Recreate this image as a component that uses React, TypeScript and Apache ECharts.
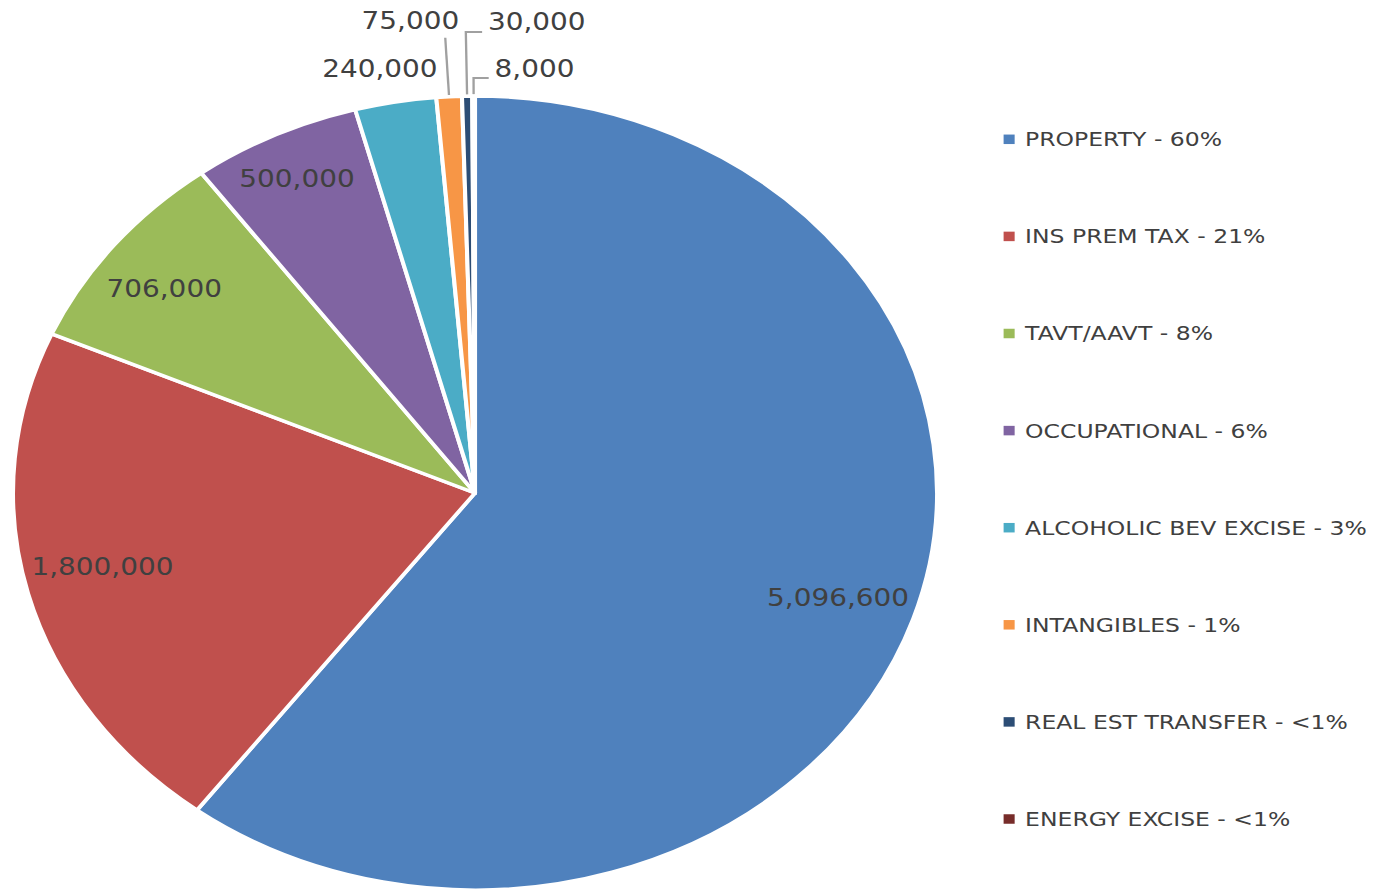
import React, { useEffect, useRef } from "react";
import * as echarts from "echarts";

// ---- data ----
const categories = [
  "PROPERTY",
  "INS PREM TAX",
  "TAVT/AAVT",
  "OCCUPATIONAL",
  "ALCOHOLIC BEV EXCISE",
  "INTANGIBLES",
  "REAL EST TRANSFER",
  "ENERGY EXCISE",
];
const values = [5096600, 1800000, 706000, 500000, 240000, 75000, 30000, 8000];
const shareLabels = ["60%", "21%", "8%", "6%", "3%", "1%", "<1%", "<1%"];

// ---- styles ----
const colors = ["#4F81BD", "#C0504D", "#9BBB59", "#8064A2", "#4BACC6", "#F79646", "#2C4D75", "#772C2A"];
const FONT = "DejaVu Sans";
const TEXT = "#404040";
const SX = 462 / 397; // horizontal stretch of the reference picture
const W = 1376 / SX;
const H = 891;
const CX = 475 / SX;
const CY = 493;
const R = 397;

// inside labels: radius (px) at which each big slice's label sits, plus a small vertical nudge
const insideIdx = [0, 1, 2, 3];
const insideRadius = [326, 328, 339, 350];
const insideNudgeY = [0, -10, 9, 4];

// outside labels for the small slices
const smallIdx = [4, 5, 6, 7];
const smallLen = [34, 59, 64, 18];
const smallLen2 = [0, 0, 14, 13];
const smallShowLine = [false, true, true, true];
const smallFlip = [false, false, true, true];
const smallAlign = ["center", "right", "left", "left"];
const smallVAlign = ["middle", "bottom", "bottom", "bottom"];
const smallDist = [7.5, -12, 5, 5];
const smallNudgeY = [0, 0, 2, 3];
const smallPad = [
  [0, 0, 0, 0],
  [0, 0, 5, 0],
  [0, 0, 0, 0],
  [0, 0, 0, 0],
];

const fmtNum = (v: number) => v.toLocaleString("en-US");

export default function App() {
  const ref = useRef<HTMLDivElement>(null);
  useEffect(() => {
    const chart = echarts.init(ref.current!, null, { renderer: "svg" });

    const mainData = values.map((v, i) => {
      const k = smallIdx.indexOf(i);
      const isSmall = k >= 0;
      return {
        name: categories[i],
        value: v,
        itemStyle: { color: colors[i] },
        label: isSmall
          ? {
              show: true,
              distanceToLabelLine: smallDist[k],
              padding: smallPad[k],
            }
          : { show: false },
        labelLine: isSmall
          ? { show: smallShowLine[k], length: smallLen[k], length2: smallLen2[k] }
          : { show: false },
      };
    });

    const labelPies = insideIdx.map((idx, j) => ({
      type: "pie",
      silent: true,
      center: [CX, CY],
      radius: [0, insideRadius[j] * 2],
      startAngle: 90,
      clockwise: true,
      avoidLabelOverlap: false,
      z: 5,
      itemStyle: { color: "transparent", borderWidth: 0 },
      emphasis: { disabled: true },
      label: {
        show: true,
        position: "inside",
        fontFamily: FONT,
        fontSize: 24,
        lineHeight: 24,
        color: TEXT,
        formatter: (p: any) => fmtNum(p.value),
      },
      labelLine: { show: false },
      labelLayout: (p: any) => {
        if (p.dataIndex !== idx || !p.labelRect) return {};
        const r = p.labelRect;
        return {
          x: r.x + r.width / 2,
          y: r.y + r.height / 2 + insideNudgeY[j],
          align: "center",
          verticalAlign: "middle",
        };
      },
      data: values.map((v, i) => ({
        name: categories[i],
        value: v,
        label: { show: i === idx },
      })),
    }));

    const option: any = {
      animation: false,
      backgroundColor: "#ffffff",
      legend: {
        orient: "vertical",
        left: 857.4,
        top: 123.3,
        itemGap: 75.1,
        itemWidth: 9.5,
        itemHeight: 9.5,
        icon: "rect",
        selectedMode: false,
        itemStyle: { borderWidth: 0 },
        data: categories,
        formatter: (n: string) => `${n} - ${shareLabels[categories.indexOf(n)]}`,
        textStyle: {
          fontFamily: FONT,
          fontSize: 20.2,
          color: TEXT,
          lineHeight: 22,
          padding: [0, 0, 0, 4],
        },
      },
      series: [
        {
          type: "pie",
          center: [CX, CY],
          radius: [0, R],
          startAngle: 90,
          clockwise: true,
          avoidLabelOverlap: false,
          emphasis: { disabled: true },
          itemStyle: { borderColor: "#ffffff", borderWidth: 3.5 },
          label: {
            show: true,
            position: "outside",
            fontFamily: FONT,
            fontSize: 24,
            lineHeight: 24,
            color: TEXT,
            formatter: (p: any) => fmtNum(p.value),
          },
          labelLine: { show: true, lineStyle: { color: "#a0a0a0", width: 2 } },
          labelLayout: (p: any) => {
            const k = smallIdx.indexOf(p.dataIndex);
            if (k < 0) return {};
            const res: any = { align: smallAlign[k], verticalAlign: smallVAlign[k] };
            const pts = p.labelLinePoints;
            if (smallFlip[k] && pts && pts.length === 3) {
              const len2 = Math.abs(pts[2][0] - pts[1][0]);
              const nx = pts[1][0] + len2;
              res.labelLinePoints = [pts[0], pts[1], [nx, pts[2][1]]];
              res.x = nx + smallDist[k];
              res.y = pts[2][1] + smallNudgeY[k];
            }
            return res;
          },
          data: mainData,
        },
        ...labelPies,
      ],
    };
    chart.setOption(option);
    return () => chart.dispose();
  }, []);

  return (
    <div
      style={{
        position: "fixed",
        left: 0,
        top: 0,
        width: 1376,
        height: 891,
        overflow: "hidden",
        background: "#ffffff",
      }}
    >
      <div
        ref={ref}
        style={{
          width: W,
          height: H,
          transform: `scaleX(${SX})`,
          transformOrigin: "0 0",
        }}
      />
    </div>
  );
}
